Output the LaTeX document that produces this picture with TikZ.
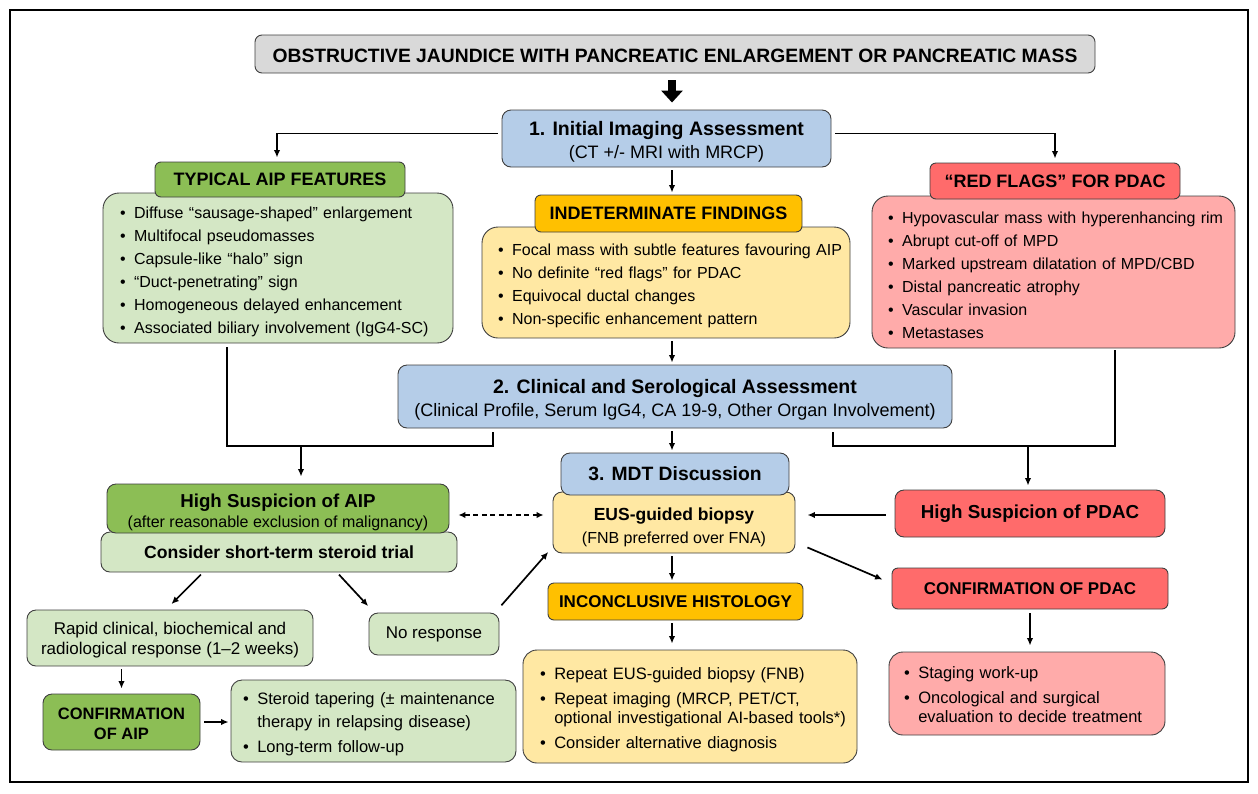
\documentclass[tikz,border=0pt]{standalone}
\usepackage{fontspec}
\setmainfont{Liberation Sans}
\usetikzlibrary{arrows.meta,calc}
\definecolor{bordc}{HTML}{3F3F3F}
\definecolor{grayF}{HTML}{D9D9D9}
\definecolor{blueF}{HTML}{B5CDE8}
\definecolor{dgreenF}{HTML}{8CBE55}
\definecolor{lgreenF}{HTML}{D4E7C5}
\definecolor{orangeF}{HTML}{FFC000}
\definecolor{lyellowF}{HTML}{FFE8A3}
\definecolor{redF}{HTML}{FF6B6B}
\definecolor{lredF}{HTML}{FFABAA}
\newcommand{\li}[1]{\mbox{\textbullet\hspace{8.5pt}#1}}
\newcommand{\lc}[1]{\mbox{\phantom{\textbullet}\hspace{8.5pt}#1}}
\newcommand{\fs}[2]{\fontsize{#1}{#2}\selectfont}
\newcommand{\up}[1]{\rule{0pt}{#1pt}}
\begin{document}
\begin{tikzpicture}[x=1pt,y=-1pt,
  box/.style={draw=bordc, line width=0.9pt, rounded corners=9pt, inner sep=0pt, align=center, text=black},
  stepbox/.style={box, fill=blueF},
  headbox/.style={box, rounded corners=6pt, font=\fs{18}{20}\bfseries},
  listbox/.style={box, rounded corners=16pt, align=left},
  conn/.style={line width=1.7pt, draw=black},
  arr/.style={conn, -{Latex[length=7.5pt,width=6.5pt]}, shorten <=3pt, shorten >=2pt},
]
\useasboundingbox (0,0) rectangle (1258,793);
\draw[line width=1.5pt] (10,10) rectangle (1248,782);

\coordinate (cx) at (672,0);
\coordinate (jl1) at (227,446);
\coordinate (jl2) at (493,446);
\coordinate (ja) at (301,446);
\coordinate (jr1) at (833,446);
\coordinate (jr2) at (1115,446);
\coordinate (jr3) at (1028,446);
\coordinate (dl) at (0,515);

% title
\node[box, fill=grayF, rounded corners=7pt, minimum width=840pt, minimum height=38pt, font=\fs{19.3}{22}\bfseries] (title) at (675,54)
  {\up{17.8}OBSTRUCTIVE JAUNDICE WITH PANCREATIC ENLARGEMENT OR PANCREATIC MASS};

% step 1
\node[stepbox, minimum width=329pt, minimum height=57pt, font=\fs{18}{23}] (b1) at (666.5,138.5)
  {{\fs{19.5}{23}\bfseries \up{20.2}1. Initial Imaging Assessment}\\(CT +/- MRI with MRCP)};

% typical AIP
\node[listbox, fill=lgreenF, minimum height=150pt, text width=316pt, inner xsep=17pt, font=\fs{16}{23}] (aipbody) at (278,268)
  {\up{19.7}\li{Diffuse “sausage-shaped” enlargement}\\
   \li{Multifocal pseudomasses}\\
   \li{Capsule-like “halo" sign}\\
   \li{“Duct-penetrating” sign}\\
   \li{Homogeneous delayed enhancement}\\
   \li{Associated biliary involvement (IgG4-SC)}};
\node[headbox, fill=dgreenF, minimum width=250pt, minimum height=35pt] (aiphead) at (280,179.5) {TYPICAL AIP FEATURES};

% indeterminate
\node[listbox, fill=lyellowF, minimum height=111pt, text width=336pt, inner xsep=16pt, font=\fs{16}{23}] (indbody) at (666,282.5)
  {\up{17.7}\li{Focal mass with subtle features favouring AIP}\\
   \li{No definite “red flags” for PDAC}\\
   \li{Equivocal ductal changes}\\
   \li{Non-specific enhancement pattern}};
\node[headbox, fill=orangeF, minimum width=267pt, minimum height=37pt] (indhead) at (668.5,213.5) {INDETERMINATE FINDINGS};

% red flags
\node[listbox, fill=lredF, minimum height=152pt, text width=331pt, inner xsep=16pt, font=\fs{16}{23}] (redbody) at (1053.5,272)
  {\up{17.7}\li{Hypovascular mass with hyperenhancing rim}\\
   \li{Abrupt cut-off of MPD}\\
   \li{Marked upstream dilatation of MPD/CBD}\\
   \li{Distal pancreatic atrophy}\\
   \li{Vascular invasion}\\
   \li{Metastases}};
\node[headbox, fill=redF, minimum width=250pt, minimum height=36pt] (redhead) at (1055,181) {“RED FLAGS” FOR PDAC};

% step 2
\node[stepbox, minimum width=554pt, minimum height=63pt, font=\fs{18}{23}] (b2) at (675,396.5)
  {{\fs{19.5}{23}\bfseries \up{20.2}2. Clinical and Serological Assessment}\\(Clinical Profile, Serum IgG4, CA 19-9, Other Organ Involvement)};

% MDT + EUS
\node[box, fill=lyellowF, minimum width=242pt, minimum height=61pt, font=\fs{16}{23}] (eus) at (674,522.5)
  {{\fs{17.5}{23}\bfseries \up{22.8}EUS-guided biopsy}\\(FNB preferred over FNA)};
\node[stepbox, minimum width=228pt, minimum height=42pt, font=\fs{19.3}{22}\bfseries] (mdt) at (675,474) {3. MDT Discussion};

% AIP branch
\node[box, fill=lgreenF, minimum width=356pt, minimum height=40pt, font=\fs{17.6}{20}\bfseries] (trial) at (279,552) {Consider short-term steroid trial};
\node[box, fill=dgreenF, minimum width=342pt, minimum height=49pt, font=\fs{16}{20}] (highaip) at (278,508.5)
  {{\fs{18.7}{20}\bfseries \up{21.6}High Suspicion of AIP}\\(after reasonable exclusion of malignancy)};
\node[box, fill=lgreenF, minimum width=286pt, minimum height=56pt, font=\fs{17}{20}] (rapid) at (170,638)
  {\up{16.4}Rapid clinical, biochemical and\\radiological response (1–2 weeks)};
\node[box, fill=lgreenF, minimum width=130pt, minimum height=42pt, font=\fs{17}{20}] (nores) at (434,634) {No response};
\node[box, fill=dgreenF, minimum width=157pt, minimum height=56pt, font=\fs{16.5}{20}\bfseries] (confaip) at (121.5,722) {\up{16}CONFIRMATION\\OF AIP};
\node[listbox, rounded corners=11pt, fill=lgreenF, minimum height=82pt, text width=261pt, inner xsep=12pt, font=\fs{16.5}{23}] (taper) at (373.5,721)
  {\up{18}\li{Steroid tapering (± maintenance}\\
   \lc{therapy in relapsing disease)}\\[2pt]
   \li{Long-term follow-up}};

% histology
\node[box, fill=orangeF, rounded corners=6pt, minimum width=255pt, minimum height=37pt, font=\fs{17}{20}\bfseries] (inchead) at (675.5,601.5) {INCONCLUSIVE HISTOLOGY};
\node[listbox, rounded corners=14pt, fill=lyellowF, minimum height=113pt, text width=300pt, inner xsep=17pt, font=\fs{16.5}{19}] (repeat) at (690,706.5)
  {\up{18}\li{Repeat EUS-guided biopsy (FNB)}\\[6pt]
   \li{Repeat imaging (MRCP, PET/CT,}\\
   \lc{optional investigational AI-based tools*)}\\[6pt]
   \li{Consider alternative diagnosis}};

% PDAC branch
\node[box, fill=redF, minimum width=270pt, minimum height=47pt, font=\fs{18.8}{20}\bfseries] (highpdac) at (1030,513.5) {High Suspicion of PDAC};
\node[box, fill=redF, rounded corners=6pt, minimum width=276pt, minimum height=41pt, font=\fs{17}{20}\bfseries] (confpdac) at (1030,588.5) {CONFIRMATION OF PDAC};
\node[listbox, rounded corners=14pt, fill=lredF, minimum height=83pt, text width=246pt, inner xsep=15pt, font=\fs{16.5}{19}] (staging) at (1027,693.5)
  {\up{14}\li{Staging work-up}\\[6pt]
   \li{Oncological and surgical}\\
   \lc{evaluation to decide treatment}};

% connectors
\draw[line width=8.5pt, -{Triangle[length=12pt,width=21pt]}, shorten <=7pt, shorten >=7pt] (title.south -| cx) -- (b1.north -| cx);
\draw[arr, shorten <=4pt, shorten >=4pt] ([yshift=5pt]b1.west) -| ([xshift=-3pt]aiphead.north);
\draw[arr, shorten <=4pt, shorten >=4pt] ([yshift=5pt]b1.east) -| (redhead.north);
\draw[arr] (b1.south -| cx) -- (indhead.north -| cx);
\draw[arr] (indbody.south -| cx) -- (b2.north -| cx);
\draw[conn, shorten <=4pt, shorten >=4pt] (aipbody.south -| jl1) -- (jl1) -- (jl2) -- (b2.south -| jl2);
\draw[arr, shorten <=0pt, shorten >=7pt] (ja) -- (highaip.north -| ja);
\draw[arr] (b2.south -| cx) -- (mdt.north -| cx);
\draw[conn, shorten <=4pt, shorten >=2pt] (b2.south -| jr1) -- (jr1) -- (jr2) -- (redbody.south -| jr2);
\draw[arr, shorten <=0pt, shorten >=4pt] (jr3) -- (highpdac.north -| jr3);
\draw[conn, dash pattern=on 5pt off 3.5pt, line width=1.5pt, {Latex[length=7pt,width=6.5pt]}-{Latex[length=7pt,width=6.5pt]}, shorten <=9pt, shorten >=9pt] (highaip.east |- dl) -- (eus.west |- dl);
\draw[arr, shorten <=9pt, shorten >=12pt] (highpdac.west |- dl) -- (eus.east |- dl);
\draw[arr] (eus.south -| cx) -- (inchead.north -| cx);
\draw[arr, shorten >=6pt] (inchead.south -| cx) -- (repeat.north -| cx);
\draw[arr] ([xshift=-76pt]trial.south) -- ([shift={(0,-4)}]rapid.north);
\draw[arr] ([xshift=58pt]trial.south) -- ([shift={(1,-5)}]nores.north west);
\draw[arr] ([shift={(0,-5)}]nores.north east) -- ([shift={(-3,-3)}]eus.south west);
\draw[arr, shorten <=0pt, shorten >=0pt] ([shift={(12,-6)}]eus.south east) -- ([shift={(-9,12)}]confpdac.north west);
\draw[arr, shorten >=5pt] (rapid.south -| confaip.north) -- (confaip.north);
\draw[arr, shorten <=4pt] (confaip.east) -- (confaip.east -| taper.west);
\draw[arr, shorten <=4pt, shorten >=6pt] (confpdac.south) -- (confpdac.south |- staging.north);
\end{tikzpicture}
\end{document}
